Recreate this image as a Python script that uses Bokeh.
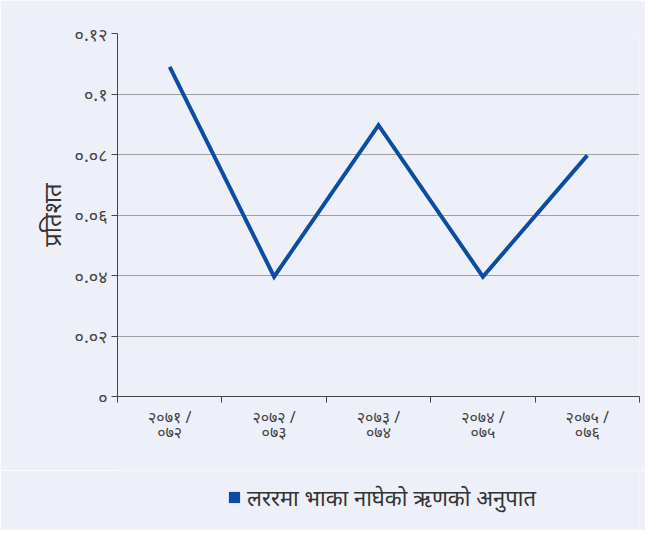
from bokeh.plotting import figure
from bokeh.layouts import column
from bokeh.models import FixedTicker, Range1d, Legend, LegendItem
from bokeh.embed import file_html
from bokeh.resources import INLINE

categories = ["२०७१ /\n०७२", "२०७२ /\n०७३", "२०७३ /\n०७४", "२०७४ /\n०७५", "२०७५ /\n०७६"]
values = [0.109, 0.0396, 0.0897, 0.0396, 0.0797]
y_ticks = [0, 0.02, 0.04, 0.06, 0.08, 0.1, 0.12]
y_labels = ["०", "०.०२", "०.०४", "०.०६", "०.०८", "०.१", "०.१२"]
series_name = "लररमा भाका नाघेको ऋणको अनुपात"
y_title = "प्रतिशत"

BG = "#EDF0F8"
LINE = "#0C4DA2"
FONT = "Noto Sans"

xs = [i + 0.5 for i in range(len(categories))]

p = figure(width=645, height=470, output_backend="svg", toolbar_location=None,
           x_range=Range1d(0, len(categories)), y_range=Range1d(0, 0.12),
           min_border_left=117, min_border_right=6, min_border_top=33, min_border_bottom=74)
p.background_fill_color = BG
p.border_fill_color = BG
p.outline_line_color = None

r = p.line(xs, values, line_color=LINE, line_width=4, line_join="miter")

# x axis
p.xaxis.ticker = FixedTicker(ticks=xs, minor_ticks=list(range(len(categories) + 1)))
p.xaxis.major_label_overrides = {x: c for x, c in zip(xs, categories)}
p.xaxis.major_tick_line_color = None
p.xaxis.minor_tick_out = 6
p.xaxis.minor_tick_in = 0
p.xaxis.minor_tick_line_color = "#444444"
p.xaxis.axis_line_color = "#444444"
p.xaxis.major_label_text_font = FONT
p.xaxis.major_label_text_font_size = "16px"
p.xaxis.major_label_text_color = "#444444"
p.xaxis.major_label_standoff = 3
p.xaxis.major_label_text_line_height = 0.72

# y axis
p.yaxis.ticker = FixedTicker(ticks=y_ticks)
p.yaxis.major_label_overrides = {t: l for t, l in zip(y_ticks, y_labels)}
p.yaxis.major_tick_out = 6
p.yaxis.major_tick_in = 0
p.yaxis.minor_tick_line_color = None
p.yaxis.major_tick_line_color = "#444444"
p.yaxis.axis_line_color = "#444444"
p.yaxis.major_label_text_font = FONT
p.yaxis.major_label_text_font_size = "18px"
p.yaxis.major_label_text_color = "#444444"
p.yaxis.major_label_standoff = 4
p.yaxis.axis_label = y_title
p.yaxis.axis_label_text_font = FONT
p.yaxis.axis_label_text_font_size = "24px"
p.yaxis.axis_label_text_font_style = "normal"
p.yaxis.axis_label_text_color = "#333333"
p.yaxis.axis_label_standoff = 4

p.xgrid.grid_line_color = None
p.ygrid.grid_line_color = "#A0A0A0"
p.ygrid.grid_line_width = 1

# legend strip below the chart (its frame aligns with the chart frame)
p2 = figure(width=645, height=60, output_backend="svg", toolbar_location=None,
            x_range=Range1d(0, 1), y_range=Range1d(0, 1),
            x_axis_type=None, y_axis_type=None, min_border=0)
p2.background_fill_color = BG
p2.border_fill_color = BG
p2.outline_line_color = None
p2.grid.visible = False
# degenerate (zero-area) quads over the series: invisible, only feed the legend swatch
sq = p2.quad(left=xs, right=xs, top=values, bottom=values, fill_color=LINE, line_color=None)

legend = Legend(items=[LegendItem(label=series_name, renderers=[sq])],
                location=(110, 18), orientation="horizontal",
                background_fill_alpha=0, border_line_color=None,
                label_text_font=FONT, label_text_font_size="22px",
                label_text_color="#333333", glyph_width=14, glyph_height=14,
                label_standoff=6, padding=0, margin=0)
p2.add_layout(legend, "center")

layout = column(p, p2, spacing=0)
open("out.html", "w").write(file_html(layout, INLINE))
